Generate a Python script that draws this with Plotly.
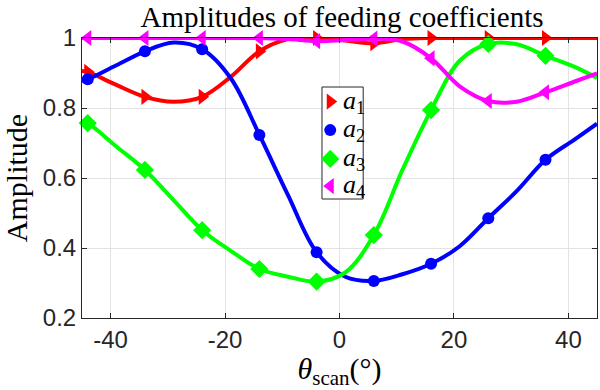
import plotly.graph_objects as go

theta = [-45, -44, -39, -34, -29, -24, -19, -14, -9, -4, 1, 6, 11, 16, 21, 26, 31, 36, 41, 45]
marker_theta = [-44, -34, -24, -14, -4, 6, 16, 26, 36]

a1 = [0.906, 0.903, 0.866, 0.832, 0.818, 0.832, 0.889, 0.962, 0.997, 1.0, 0.993, 0.985, 0.997, 1.0, 1.0, 1.0, 1.0, 1.0, 1.0, 1.0]
a2 = [0.878, 0.882, 0.922, 0.962, 0.987, 0.968, 0.885, 0.723, 0.551, 0.388, 0.318, 0.306, 0.325, 0.355, 0.405, 0.485, 0.563, 0.652, 0.709, 0.755]
a3 = [0.762, 0.757, 0.690, 0.623, 0.537, 0.451, 0.392, 0.340, 0.318, 0.304, 0.330, 0.437, 0.623, 0.794, 0.935, 0.983, 0.982, 0.949, 0.918, 0.886]
a4 = [1.0, 1.0, 1.0, 1.0, 1.0, 1.0, 1.0, 1.0, 0.997, 0.991, 0.994, 0.998, 0.99, 0.942, 0.862, 0.820, 0.818, 0.845, 0.875, 0.899]

series_names = ["<i>a</i><sub>1</sub>", "<i>a</i><sub>2</sub>", "<i>a</i><sub>3</sub>", "<i>a</i><sub>4</sub>"]
colors = ["#FF0000", "#0000FF", "#00FF00", "#FF00FF"]
symbols = ["triangle-right", "circle", "diamond", "triangle-left"]
marker_sizes = [14, 12, 14, 14]

x_tickvals = [-40, -20, 0, 20, 40]
x_ticktext = ["-40", "-20", "0", "20", "40"]
y_tickvals = [0.2, 0.4, 0.6, 0.8, 1.0]
y_ticktext = ["0.2", "0.4", "0.6", "0.8", "1"]

fig = go.Figure()
idx = [theta.index(t) for t in marker_theta]
for name, ys, c, s, ms in zip(series_names, [a1, a2, a3, a4], colors, symbols, marker_sizes):
    fig.add_trace(go.Scatter(x=theta, y=ys, mode="lines", line=dict(color=c, width=4, shape="spline", smoothing=1.0),
                             showlegend=False, hoverinfo="skip"))
    fig.add_trace(go.Scatter(x=[theta[i] for i in idx], y=[ys[i] for i in idx], mode="markers", name=name,
                             marker=dict(color=c, symbol=s, size=ms, line=dict(width=0)),
                             showlegend=False, cliponaxis=False))

# ---- manual legend (drawn on an invisible overlay axis in fractional plot coordinates) ----
leg_x0, leg_x1, leg_y0, leg_y1 = 0.466, 0.546, 0.425, 0.825
leg_rows = [0.773, 0.671, 0.568, 0.471]
leg_mx, leg_tx = 0.482, 0.503
fig.add_trace(go.Scatter(x=[leg_x0, leg_x1, leg_x1, leg_x0, leg_x0], y=[leg_y0, leg_y0, leg_y1, leg_y1, leg_y0],
                         mode="lines", fill="toself", fillcolor="white", line=dict(color="#262626", width=1),
                         xaxis="x2", yaxis="y2", showlegend=False, hoverinfo="skip"))
for name, c, s, ms, ry in zip(series_names, colors, symbols, marker_sizes, leg_rows):
    fig.add_trace(go.Scatter(x=[leg_mx], y=[ry], mode="markers", marker=dict(color=c, symbol=s, size=ms),
                             xaxis="x2", yaxis="y2", showlegend=False, hoverinfo="skip"))
    fig.add_annotation(x=leg_tx, y=ry, xref="x2", yref="y2", text=name, showarrow=False, xanchor="left", yanchor="middle",
                       font=dict(family="Liberation Serif", size=26, color="black"))

axis_common = dict(showline=True, linecolor="#262626", linewidth=1, mirror="ticks", ticks="inside", ticklen=5,
                   tickcolor="#262626", showgrid=True, gridcolor="#E3E3E3", gridwidth=1, zeroline=False,
                   automargin=False, tickfont=dict(family="Liberation Sans", size=24, color="#262626"))

fig.update_layout(
    width=600, height=390,
    margin=dict(l=82, r=3, t=38, b=72),
    paper_bgcolor="white", plot_bgcolor="white",
    title=dict(text="Amplitudes of feeding coefficients", xref="paper", x=0.505, xanchor="center",
               yref="container", y=0.982, yanchor="top",
               font=dict(family="Liberation Serif", size=29, color="black")),
    xaxis=dict(range=[-45, 45], tickvals=x_tickvals, ticktext=x_ticktext,
               title=dict(text="<i>θ</i><sub>scan</sub>(°)", font=dict(family="Liberation Serif", size=30, color="black"), standoff=6),
               **axis_common),
    yaxis=dict(range=[0.2, 1.0], tickvals=y_tickvals, ticktext=y_ticktext,
               title=dict(text="Amplitude", font=dict(family="Liberation Serif", size=30, color="black"), standoff=8),
               **axis_common),
    xaxis2=dict(range=[0, 1], visible=False, overlaying="x", anchor="y2", fixedrange=True),
    yaxis2=dict(range=[0, 1], visible=False, overlaying="y", anchor="x2", fixedrange=True),
    showlegend=False,
)

fig.write_html("out.html", config={"displayModeBar": False}, post_script="document.body.style.margin='0';")
